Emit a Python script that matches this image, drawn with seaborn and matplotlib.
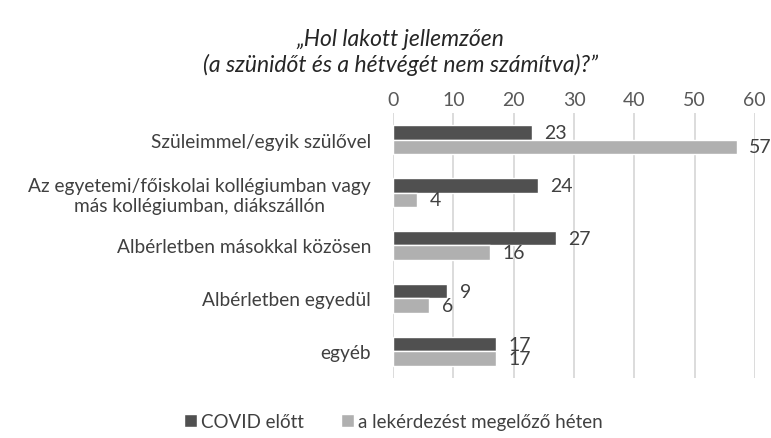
"""Hol lakott jellemzően - grouped horizontal bar chart."""
import matplotlib as mpl
import matplotlib.pyplot as plt
import pandas as pd
import seaborn as sns

DARK = "#505050"
LIGHT = "#b0b0b0"
TEXT = "#404040"

categories = [
    "Szüleimmel/egyik szülővel",
    "Az egyetemi/főiskolai kollégiumban vagy\nmás kollégiumban, diákszállón",
    "Albérletben másokkal közösen",
    "Albérletben egyedül",
    "egyéb",
]
series_names = ["COVID előtt", "a lekérdezést megelőző héten"]
covid_before = [23, 24, 27, 9, 17]
week_before = [57, 4, 16, 6, 17]
x_ticks = [0, 10, 20, 30, 40, 50, 60]

sns.set_theme(style="white")
mpl.rcParams["font.family"] = ["Lato", "DejaVu Sans"]

df = pd.DataFrame(
    {
        "category": categories * 2,
        "value": covid_before + week_before,
        "series": [series_names[0]] * len(categories)
        + [series_names[1]] * len(categories),
    }
)

fig = plt.figure(figsize=(7.71, 4.39), dpi=100)
ax = fig.add_axes([0.51, 0.137, 0.469, 0.603])

sns.barplot(
    data=df,
    y="category",
    x="value",
    hue="series",
    hue_order=series_names,
    order=categories,
    palette=[DARK, LIGHT],
    orient="h",
    width=0.54,
    saturation=1,
    ax=ax,
)

for container in ax.containers:
    ax.bar_label(container, padding=9, fontsize=14, color=TEXT)

ax.set_xlim(0, 60)
ax.set_xticks(x_ticks)
ax.xaxis.tick_top()
ax.tick_params(axis="x", length=0, labelsize=14, labelcolor="#595959", pad=4)
ax.tick_params(axis="y", length=0, labelsize=13.8, labelcolor=TEXT, pad=16)
ax.grid(axis="x", color="#d9d9d9", linewidth=1.3)
ax.set_axisbelow(True)
for spine in ax.spines.values():
    spine.set_visible(False)
ax.set_xlabel("")
ax.set_ylabel("")
for label in ax.get_yticklabels():
    label.set_horizontalalignment("right")
    label.set_multialignment("center")

handles, labels = ax.get_legend_handles_labels()
ax.legend_.remove()
fig.legend(
    handles,
    labels,
    loc="center",
    bbox_to_anchor=(0.51, 0.038),
    ncol=2,
    frameon=False,
    handlelength=0.7,
    handleheight=0.7,
    handletextpad=0.2,
    columnspacing=2.0,
    fontsize=13.5,
    labelcolor=TEXT,
)

fig.text(
    0.519,
    0.88,
    "„Hol lakott jellemzően\n(a szünidőt és a hétvégét nem számítva)?”",
    ha="center",
    va="center",
    fontsize=16.5,
    style="italic",
    color="#262626",
    linespacing=1.2,
)

plt.savefig("out.png", dpi=100)
plt.close()
